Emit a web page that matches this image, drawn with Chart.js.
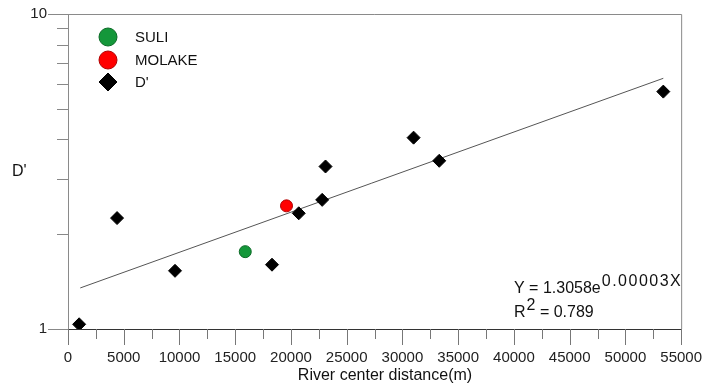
<!DOCTYPE html>
<html>
<head>
<meta charset="utf-8">
<script src="https://cdn.jsdelivr.net/npm/chart.js@4"></script>
<style>
  html, body { margin: 0; padding: 0; background: #fff; }
  #wrap { width: 722px; height: 386px; }
</style>
</head>
<body>
<div id="wrap"><canvas id="c"></canvas></div>
<script>
// values
const dX = [1000, 4400, 9600, 18300, 20700, 22800, 23100, 31000, 33300, 53400]
const dY = [1.035, 2.25, 1.53, 1.60, 2.33, 2.57, 3.28, 4.05, 3.42, 5.67]
const suliX = [15900]
const suliY = [1.76]
const molakeX = [19600]
const molakeY = [2.46]
// fitted curve, end points as drawn
const trendX = [1100, 53400]
const trendY = [1.35, 6.25]

const xTicks = []
for (let v = 0; v <= 55000; v += 2500) xTicks.push(v)
const yTicks = [1, 2, 3, 4, 5, 6, 7, 8, 9, 10]

const FONT = "'Liberation Sans', Arial, sans-serif"
const GREEN = "#14973a"
const RED = "#ff0000"

function pts(xs, ys) {
  return xs.map((x, i) => ({ x: x, y: ys[i] }))
}

const framePlugin = {
  id: "frame",
  beforeDatasetsDraw(chart) {
    const ctx = chart.ctx
    const a = chart.chartArea
    const xs = chart.scales.x
    const ys = chart.scales.y
    ctx.save()
    ctx.lineWidth = 1
    // box top + right
    ctx.strokeStyle = "#8a8a8a"
    ctx.beginPath()
    ctx.moveTo(a.left, a.top + 0.5)
    ctx.lineTo(a.right + 0.5, a.top + 0.5)
    ctx.lineTo(a.right + 0.5, a.bottom)
    ctx.stroke()
    // x ticks
    ctx.strokeStyle = "#777"
    for (const v of xTicks) {
      const px = Math.round(xs.getPixelForValue(v)) + 0.5
      const len = v % 5000 === 0 ? 16 : 10
      ctx.beginPath()
      ctx.moveTo(px, a.bottom)
      ctx.lineTo(px, a.bottom + len)
      ctx.stroke()
    }
    // y ticks
    ctx.strokeStyle = "#888"
    for (const v of yTicks) {
      const py = Math.round(ys.getPixelForValue(v)) + 0.5
      const len = (v === 1 || v === 10) ? 20 : 11
      ctx.beginPath()
      ctx.moveTo(a.left - len, py)
      ctx.lineTo(a.left, py)
      ctx.stroke()
    }
    ctx.restore()
  },
  afterDraw(chart) {
    const ctx = chart.ctx
    ctx.save()
    ctx.fillStyle = "#111"
    ctx.textBaseline = "middle"
    ctx.textAlign = "left"
    // axis titles
    ctx.font = "16px " + FONT
    ctx.fillText("D'", 12, 172)
    ctx.textAlign = "center"
    ctx.fillText("River center distance(m)", 385, 376)

    // legend
    ctx.textAlign = "left"
    ctx.font = "15px " + FONT
    const items = [
      { label: "SULI", style: "circle", fill: GREEN, stroke: "#0b6a26", y: 37 },
      { label: "MOLAKE", style: "circle", fill: RED, stroke: "#b00000", y: 60 },
      { label: "D'", style: "rectRot", fill: "#000", stroke: "#000", y: 82 },
    ]
    for (const it of items) {
      ctx.fillStyle = it.fill
      ctx.strokeStyle = it.stroke
      ctx.lineWidth = 1
      Chart.helpers.drawPoint(ctx, { pointStyle: it.style, radius: 9, borderWidth: 1 }, 108, it.y)
      ctx.fillStyle = "#111"
      ctx.fillText(it.label, 135, it.y + 1)
    }

    // regression equation
    ctx.textBaseline = "alphabetic"
    ctx.font = "16px " + FONT
    let x = 514
    ctx.fillText("Y = 1.3058e", x, 293)
    x += ctx.measureText("Y = 1.3058e").width + 1
    ctx.letterSpacing = "1.5px"
    ctx.fillText("0.00003X", x, 286)
    ctx.letterSpacing = "0px"
    x = 514
    ctx.fillText("R", x, 317)
    x += ctx.measureText("R").width + 1
    ctx.fillText("2", x, 310)
    x += ctx.measureText("2").width
    ctx.fillText(" = 0.789", x, 317)
    ctx.restore()
  },
}

new Chart(document.getElementById("c"), {
  type: "scatter",
  data: {
    datasets: [
      {
        label: "SULI",
        data: pts(suliX, suliY),
        pointStyle: "circle",
        pointRadius: 6,
        pointBackgroundColor: GREEN,
        pointBorderColor: "#0b6a26",
        pointBorderWidth: 1,
      },
      {
        label: "MOLAKE",
        data: pts(molakeX, molakeY),
        pointStyle: "circle",
        pointRadius: 6,
        pointBackgroundColor: RED,
        pointBorderColor: "#b00000",
        pointBorderWidth: 1,
      },
      {
        label: "D'",
        data: pts(dX, dY),
        pointStyle: "rectRot",
        pointRadius: 6.5,
        pointBackgroundColor: "#000",
        pointBorderColor: "#000",
        pointBorderWidth: 1,
      },
      {
        label: "fit",
        data: pts(trendX, trendY),
        showLine: true,
        borderColor: "#555",
        borderWidth: 1,
        pointRadius: 0,
        fill: false,
      },
    ],
  },
  options: {
    responsive: true,
    maintainAspectRatio: false,
    animation: false,
    events: [],
    layout: {
      padding: { left: 0, top: 0, right: 35, bottom: 0 },
    },
    plugins: {
      legend: { display: false },
      tooltip: { enabled: false },
    },
    scales: {
      x: {
        type: "linear",
        min: 0,
        max: 55000,
        afterBuildTicks: (s) => { s.ticks = xTicks.map((v) => ({ value: v })) },
        afterFit: (s) => { s.height = 57 },
        grid: { display: false, drawTicks: false },
        border: { display: true, color: "#333", width: 1 },
        ticks: {
          autoSkip: false,
          maxRotation: 0,
          padding: 20,
          color: "#222",
          font: { family: FONT, size: 15 },
          callback: (v) => (v % 5000 === 0 ? String(v) : ""),
        },
      },
      y: {
        type: "logarithmic",
        min: 1,
        max: 10,
        afterBuildTicks: (s) => { s.ticks = yTicks.map((v) => ({ value: v })) },
        afterFit: (s) => { s.width = 68; s.paddingTop = 14 },
        grid: { display: false, drawTicks: false },
        border: { display: true, color: "#8a8a8a", width: 1 },
        ticks: {
          autoSkip: false,
          padding: 21,
          color: "#222",
          font: { family: FONT, size: 15 },
          callback: (v) => (v === 1 || v === 10 ? String(v) : ""),
        },
      },
    },
  },
  plugins: [framePlugin],
})
</script>
</body>
</html>
